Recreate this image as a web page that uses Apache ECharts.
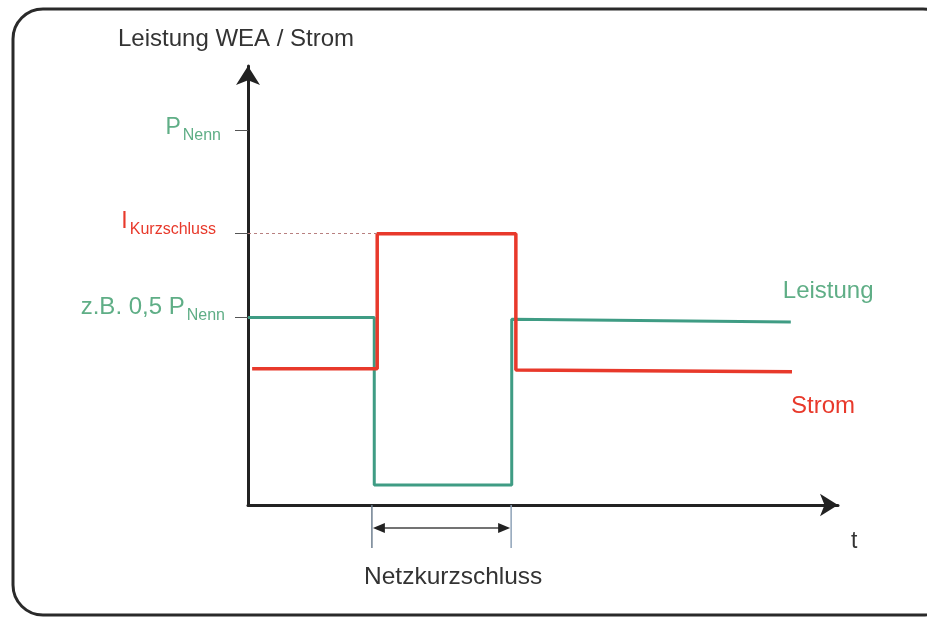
<!DOCTYPE html>
<html>
<head>
<meta charset="utf-8">
<script src="https://cdn.jsdelivr.net/npm/echarts@6/dist/echarts.min.js"></script>
<style>
  html, body { margin: 0; padding: 0; background: #fff; }
  #chart { width: 927px; height: 617px; }
</style>
</head>
<body>
<div id="chart"></div>
<script>
// Zeit (willkürliche Einheiten 0..100), Leistung/Strom bezogen auf P_Nenn
const leistungT = [0, 21.4, 21.4, 44.7, 44.7, 92.0]
const leistungV = [0.5, 0.5, 0.053, 0.053, 0.495, 0.488]
const stromT = [0.7, 21.9, 21.9, 45.4, 45.4, 92.2]
const stromV = [0.363, 0.363, 0.723, 0.723, 0.36, 0.355]

// Netzkurzschluss: Beginn / Ende
const faultStart = 21.0
const faultEnd = 44.6

const yTicks = [0.5, 0.723, 1.0]
const yTickLabels = ['{b|z.B. 0,5 P}{bs|Nenn}', '{r|I}{rs|Kurzschluss}', '{a|P}{as|Nenn}']

const FONT = '"Liberation Sans", Arial, sans-serif'
const GREEN = '#3f9c84'
const GREEN_TXT = '#5fae86'
const RED = '#e8392b'

const chart = echarts.init(document.getElementById('chart'))

const pairs = (t, v) => t.map((x, i) => [x, v[i]])

const mainTxt = (color, size) => ({ fontSize: size, color, fontFamily: FONT, verticalAlign: 'top' })
const subTxt = (color, padBottom, padRight) => ({
  fontSize: 16, color, fontFamily: FONT, verticalAlign: 'top',
  padding: [12, padRight, padBottom, 2],
})

// Klammer mit Doppelpfeil unter der x-Achse
function renderFault(params, api) {
  const p0 = api.coord([api.value(0), 0])
  const p1 = api.coord([api.value(1), 0])
  const y0 = p0[1]
  const ya = y0 + 23
  const ah = 12, aw = 5
  return {
    type: 'group',
    children: [
      { type: 'line', shape: { x1: p0[0], y1: y0, x2: p0[0], y2: y0 + 43 }, style: { stroke: '#6f7f90', lineWidth: 1.5 } },
      { type: 'line', shape: { x1: p1[0], y1: y0, x2: p1[0], y2: y0 + 43 }, style: { stroke: '#8fa3b8', lineWidth: 1.5 } },
      { type: 'line', shape: { x1: p0[0] + 4, y1: ya, x2: p1[0] - 4, y2: ya }, style: { stroke: '#444', lineWidth: 1.5 } },
      { type: 'polygon', shape: { points: [[p0[0] + 1, ya], [p0[0] + 1 + ah, ya - aw], [p0[0] + 1 + ah, ya + aw]] }, style: { fill: '#222' } },
      { type: 'polygon', shape: { points: [[p1[0] - 1, ya], [p1[0] - 1 - ah, ya - aw], [p1[0] - 1 - ah, ya + aw]] }, style: { fill: '#222' } },
    ],
  }
}

chart.setOption({
  animation: false,
  backgroundColor: '#fff',
  textStyle: { fontFamily: FONT },
  title: {
    text: 'Leistung WEA / Strom',
    left: 113,
    top: 22,
    textStyle: { fontSize: 24, fontWeight: 'normal', color: '#333', fontFamily: FONT },
  },
  grid: { left: 248, top: 66, width: 590, height: 439 },
  xAxis: {
    type: 'value',
    min: 0,
    max: 100,
    axisLine: {
      show: true,
      symbol: ['none', 'arrow'],
      symbolSize: [17, 18],
      lineStyle: { color: '#222', width: 3 },
    },
    axisTick: { show: false },
    axisLabel: { show: false },
    splitLine: { show: false },
  },
  yAxis: {
    type: 'value',
    min: 0,
    max: 1.17,
    axisLine: {
      show: true,
      symbol: ['none', 'arrow'],
      symbolSize: [18, 19],
      lineStyle: { color: '#222', width: 3 },
    },
    axisTick: {
      show: true,
      customValues: yTicks,
      length: 13,
      lineStyle: { color: '#555', width: 1 },
    },
    axisLabel: {
      show: true,
      customValues: yTicks,
      margin: 23,
      formatter: (v) => {
        const i = yTicks.findIndex((t) => Math.abs(t - v) < 1e-6)
        return i < 0 ? '' : yTickLabels[i]
      },
      rich: {
        a: mainTxt(GREEN_TXT, 23),
        as: subTxt(GREEN_TXT, 0, 4),
        b: mainTxt(GREEN_TXT, 24),
        bs: subTxt(GREEN_TXT, 16, 0),
        r: mainTxt(RED, 23),
        rs: subTxt(RED, 20, 9),
      },
    },
    splitLine: { show: false },
  },
  series: [
    {
      name: 'Leistung',
      type: 'line',
      data: pairs(leistungT, leistungV),
      symbol: 'none',
      clip: false,
      lineStyle: { color: GREEN, width: 3 },
      endLabel: {
        show: true,
        formatter: '{a}',
        offset: [-16, -31],
        color: GREEN_TXT,
        fontSize: 24,
        fontFamily: FONT,
      },
    },
    {
      name: 'Strom',
      type: 'line',
      data: pairs(stromT, stromV),
      symbol: 'none',
      clip: false,
      lineStyle: { color: RED, width: 3.5 },
      endLabel: {
        show: true,
        formatter: '{a}',
        offset: [-9, 35],
        color: RED,
        fontSize: 24,
        fontFamily: FONT,
      },
      markLine: {
        silent: true,
        symbol: 'none',
        label: { show: false },
        lineStyle: { color: '#b88080', width: 1, type: [3, 3] },
        data: [[{ coord: [0, stromV[2]] }, { coord: [stromT[2], stromV[2]] }]],
      },
    },
    {
      name: 'Netzkurzschluss',
      type: 'custom',
      clip: false,
      silent: true,
      encode: { x: [0, 1], y: 2 },
      data: [[faultStart, faultEnd, 0]],
      renderItem: renderFault,
    },
  ],
  graphic: [
    {
      type: 'rect',
      shape: { x: 13, y: 9, width: 940, height: 606, r: 30 },
      style: { fill: 'none', stroke: '#2a2a2a', lineWidth: 3 },
      z: 100,
      silent: true,
    },
    {
      type: 'text',
      left: 851,
      top: 530,
      style: { text: 't', fontSize: 23, fill: '#333', fontFamily: FONT },
    },
    {
      type: 'text',
      left: 364,
      top: 565,
      style: { text: 'Netzkurzschluss', fontSize: 24.5, fill: '#333', fontFamily: FONT },
    },
  ],
})
</script>
</body>
</html>
